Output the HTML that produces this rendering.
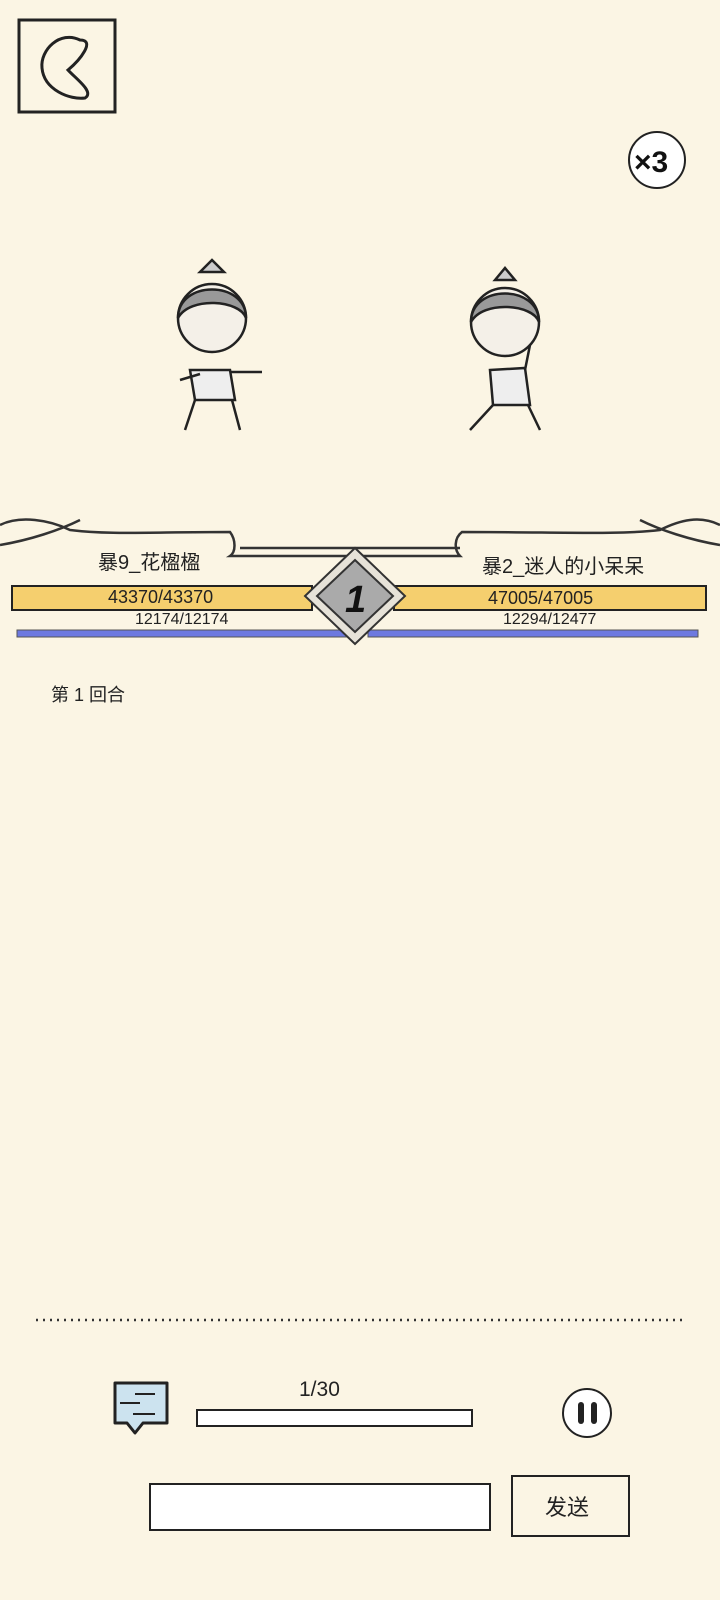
<!DOCTYPE html>
<html><head><meta charset="utf-8"><style>
body{margin:0;width:720px;height:1600px;background:#fbf5e4;position:relative;overflow:hidden;font-family:"Liberation Sans","Noto Sans CJK SC",sans-serif;color:#222}
.a{position:absolute}
</style></head><body>
<svg class="a" style="left:0;top:0" width="720" height="1600">
<rect x="19" y="20" width="96" height="92" fill="none" stroke="#222" stroke-width="3"/>
<path d="M80 40 C60 30 40 50 42 68 C44 90 70 100 85 98 C95 92 75 78 68 70 C80 60 96 40 80 40Z" fill="none" stroke="#222" stroke-width="3"/>
<circle cx="657" cy="160" r="28" fill="#fff" stroke="#222" stroke-width="2"/>
<text x="634" y="172" font-size="30" font-weight="bold" fill="#111">×3</text>
<g stroke="#222" stroke-width="2.5" fill="none">
<circle cx="212" cy="318" r="34" fill="#f4f0e8"/><path d="M178 318 C178 280 246 280 246 318 C240 300 190 296 178 318Z" fill="#999"/><path d="M200 272 l12-12 12 12z" fill="#ccc"/>
<path d="M190 370 L230 370 L235 400 L195 400Z" fill="#eee"/>
<path d="M180 380 L200 374 M230 372 L262 372 M195 400 L185 430 M232 400 L240 430"/>
<circle cx="505" cy="322" r="34" fill="#f4f0e8"/><path d="M471 322 C471 284 539 284 539 322 C533 304 483 300 471 322Z" fill="#999"/><path d="M495 280 l10-12 10 12z" fill="#ccc"/>
<path d="M490 370 L525 368 L530 405 L493 405Z" fill="#eee"/>
<path d="M493 405 L470 430 M528 405 L540 430 M525 370 L530 345"/>
</g>
<g stroke="#333" stroke-width="2.5" fill="none">
<path d="M0 525 C20 515 50 520 70 530 C110 535 150 532 230 532 C236 540 236 552 230 556 L460 556 C454 550 454 538 462 532 C560 532 620 535 660 530 C680 520 700 515 720 525"/>
<path d="M0 545 C30 540 60 530 80 520 M720 545 C690 540 660 530 640 520"/>
<path d="M240 548 L460 548"/>
</g>
<rect x="12" y="586" width="300" height="24" fill="#f5cf6e" stroke="#222" stroke-width="2"/>
<rect x="394" y="586" width="312" height="24" fill="#f5cf6e" stroke="#222" stroke-width="2"/>
<rect x="17" y="630" width="340" height="7" fill="#6d79e0" stroke="#555" stroke-width="1"/>
<rect x="368" y="630" width="330" height="7" fill="#6d79e0" stroke="#555" stroke-width="1"/>
<path d="M355 548 L405 596 L355 644 L305 596Z" fill="#e6e2d8" stroke="#333" stroke-width="2"/>
<path d="M355 560 L393 596 L355 632 L317 596Z" fill="#aaa" stroke="#333" stroke-width="2"/>
<text x="345" y="612" font-size="38" font-weight="bold" font-style="italic" fill="#111">1</text>
<line x1="36" y1="1320" x2="686" y2="1320" stroke="#333" stroke-width="2.5" stroke-dasharray="2 5"/>
<path d="M115 1383 h52 v40 h-24 l-8 10 l-8 -10 h-12z" fill="#cce3ef" stroke="#222" stroke-width="3" stroke-linejoin="round"/>
<path d="M135 1394h20M120 1403h20M133 1414h22" stroke="#222" stroke-width="2"/>
<rect x="197" y="1410" width="275" height="16" fill="#fff" stroke="#222" stroke-width="2"/>
<circle cx="587" cy="1413" r="24" fill="#fff" stroke="#222" stroke-width="2"/>
<rect x="578" y="1402" width="6" height="22" rx="3" fill="#222"/><rect x="591" y="1402" width="6" height="22" rx="3" fill="#222"/>
<rect x="150" y="1484" width="340" height="46" fill="#fff" stroke="#222" stroke-width="2"/>
<rect x="512" y="1476" width="117" height="60" fill="none" stroke="#222" stroke-width="2"/>
</svg>
<div class="a" style="left:98px;top:546px;font-size:20px">暴9_花楹楹</div>
<div class="a" style="left:482px;top:550px;font-size:20px">暴2_迷人的小呆呆</div>
<div class="a" style="left:108px;top:587px;font-size:18px">43370/43370</div>
<div class="a" style="left:488px;top:588px;font-size:18px">47005/47005</div>
<div class="a" style="left:135px;top:611px;font-size:16px">12174/12174</div>
<div class="a" style="left:503px;top:611px;font-size:16px">12294/12477</div>
<div class="a" style="left:51px;top:681px;font-size:18px">第 1 回合</div>
<div class="a" style="left:299px;top:1378px;font-size:21px">1/30</div>
<div class="a" style="left:545px;top:1490px;font-size:22px">发送</div>
</body></html>
